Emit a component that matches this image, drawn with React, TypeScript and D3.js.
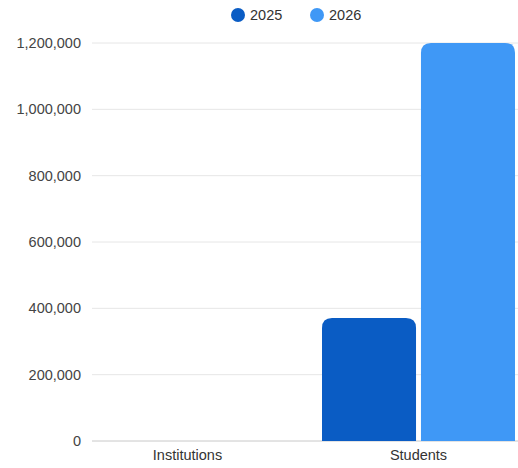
import React from "react";
import * as d3 from "d3";

const categories = ["Institutions", "Students"];
const seriesNames = ["2025", "2026"];
const values2025 = [0, 371000];
const values2026 = [0, 1200000];
const yTicks = [0, 200000, 400000, 600000, 800000, 1000000, 1200000];
const colors = ["#0A5CC4", "#3F98F6"];

const W = 518;
const H = 468;

function topRoundedRect(x: number, y: number, w: number, h: number, r: number) {
  const rr = Math.max(0, Math.min(r, w / 2, h));
  if (h <= 0.5) return "";
  return `M${x},${y + h}V${y + rr}Q${x},${y} ${x + rr},${y}H${x + w - rr}Q${x + w},${y} ${x + w},${y + rr}V${y + h}Z`;
}

export default function App() {
  const y = d3.scaleLinear().domain([0, 1200000]).range([441, 43]);
  const x0 = d3.scaleBand().domain(categories).range([72, 534]).paddingInner(0).paddingOuter(0);
  const x1 = d3
    .scaleBand()
    .domain(seriesNames)
    .range([19, x0.bandwidth() - 19])
    .paddingInner(0.05);
  const fmt = d3.format(",");
  const series = [values2025, values2026];
  const gridLeft = 92;
  const gridRight = 518;
  const font = "'Liberation Sans', Arial, sans-serif";

  return (
    <svg
      width={W}
      height={H}
      style={{ position: "absolute", left: 0, top: 0, background: "#fff" }}
      fontFamily={font}
    >
      {yTicks.map((t) => (
        <g key={t}>
          <line
            x1={gridLeft}
            x2={gridRight}
            y1={y(t)}
            y2={y(t)}
            stroke={t === 0 ? "#c8c8c8" : "#e6e6e6"}
            strokeWidth={1}
          />
          <text x={81} y={y(t)} dy="0.35em" textAnchor="end" fontSize={14.5} fill="#444">
            {fmt(t)}
          </text>
        </g>
      ))}
      {categories.map((c, ci) => (
        <g key={c} transform={`translate(${x0(c)},0)`}>
          {seriesNames.map((s, si) => {
            const v = series[si][ci];
            const bx = x1(s)!;
            const by = y(v);
            const bh = y(0) - by;
            return (
              <path
                key={s}
                d={topRoundedRect(bx, by, x1.bandwidth(), bh, 10)}
                fill={colors[si]}
              />
            );
          })}
          <text
            x={x0.bandwidth() / 2}
            y={455}
            dy="0.35em"
            textAnchor="middle"
            fontSize={14.5}
            fill="#333"
          >
            {c}
          </text>
        </g>
      ))}
      {seriesNames.map((s, si) => {
        const lx = 238 + si * 79;
        return (
          <g key={s}>
            <circle cx={lx} cy={15} r={7} fill={colors[si]} />
            <text x={lx + 12} y={15} dy="0.35em" fontSize={14.5} fill="#333">
              {s}
            </text>
          </g>
        );
      })}
    </svg>
  );
}
